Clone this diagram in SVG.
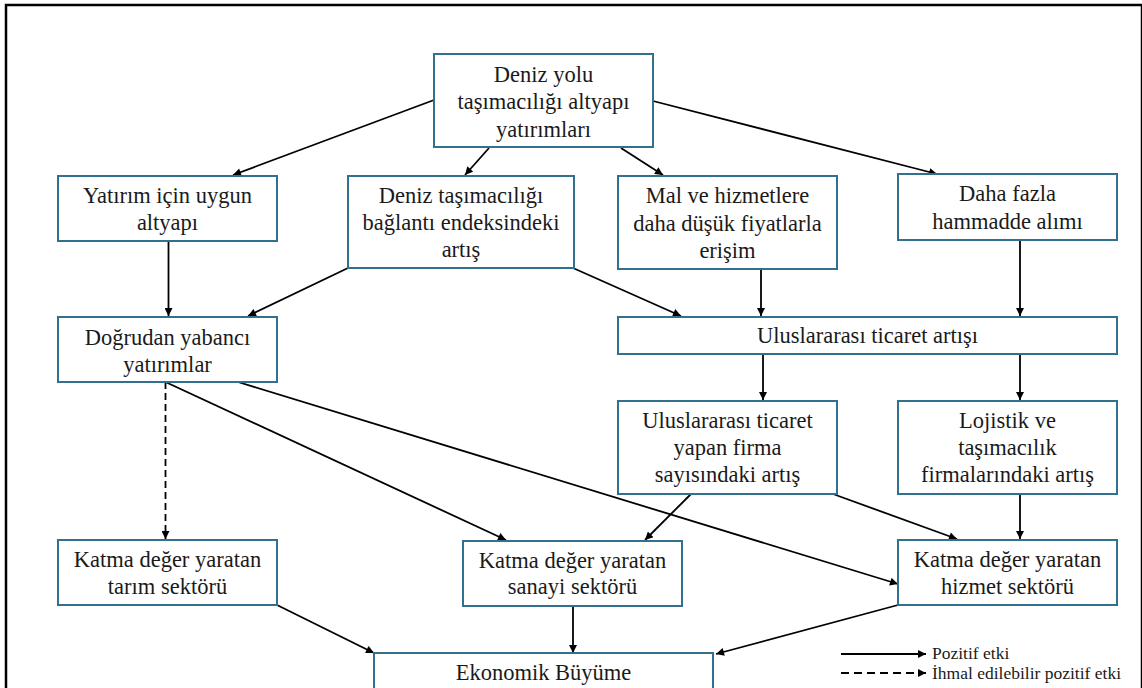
<svg xmlns="http://www.w3.org/2000/svg" width="1142" height="688" viewBox="0 0 1142 688">
  <style>
    .box { fill: #ffffff; stroke: #31708e; stroke-width: 2; }
    .lbl { font-family: "Liberation Serif", "Times New Roman", serif; font-size: 22.5px; fill: #1a1a1a; text-anchor: middle; }
    .leg { font-family: "Liberation Serif", "Times New Roman", serif; font-size: 17.5px; fill: #1a1a1a; }
    .link { fill: none; stroke: #000000; stroke-width: 1.8; marker-end: url(#arr); }
    .dash { stroke-dasharray: 7 4; }
  </style>
  <defs>
    <marker id="arr" viewBox="0 0 10 10" refX="10" refY="5" markerWidth="9" markerHeight="8" markerUnits="userSpaceOnUse" orient="auto">
      <path d="M0,0 L10,5 L0,10 z" fill="#000000"/>
    </marker>
  </defs>

  <rect width="1142" height="688" fill="#ffffff"/>
  <!-- frame -->
  <rect x="6" y="5" width="1136" height="700" fill="none" stroke="#000000" stroke-width="2.5"/>

  <!-- connectors -->
  <g id="connectors">
    <line class="link" x1="434" y1="100" x2="233" y2="175"/>
    <line class="link" x1="489" y1="148" x2="465" y2="175"/>
    <line class="link" x1="621" y1="148" x2="663" y2="175"/>
    <line class="link" x1="653" y1="101" x2="937" y2="174"/>
    <line class="link" x1="168.5" y1="241" x2="168.5" y2="316"/>
    <line class="link" x1="348" y1="268" x2="248" y2="316"/>
    <line class="link" x1="573" y1="268" x2="681" y2="316"/>
    <line class="link" x1="761" y1="269" x2="761" y2="316"/>
    <line class="link" x1="1020" y1="240" x2="1020" y2="316"/>
    <line class="link" x1="763" y1="354" x2="763" y2="400"/>
    <line class="link" x1="1020" y1="354" x2="1020" y2="400"/>
    <line class="link dash" x1="165.5" y1="382" x2="165.5" y2="539"/>
    <line class="link" x1="165.5" y1="382" x2="506" y2="540"/>
    <line class="link" x1="238" y1="382" x2="898" y2="584"/>
    <line class="link" x1="691" y1="494" x2="645" y2="540"/>
    <line class="link" x1="833" y1="494" x2="957" y2="539"/>
    <line class="link" x1="1020" y1="494" x2="1020" y2="539"/>
    <line class="link" x1="277" y1="605" x2="374" y2="653"/>
    <line class="link" x1="573" y1="606" x2="573" y2="653"/>
    <line class="link" x1="898" y1="605" x2="716" y2="654"/>
  </g>

  <g id="n-altyapi-yatirim">
    <rect class="box" x="434" y="54" width="219" height="93"/>
    <text class="lbl" x="543.5" y="81.5">Deniz yolu</text>
    <text class="lbl" x="543.5" y="109">taşımacılığı altyapı</text>
    <text class="lbl" x="543.5" y="136.5">yatırımları</text>
  </g>

  <g id="n-uygun-altyapi">
    <rect class="box" x="58" y="176" width="219" height="65"/>
    <text class="lbl" x="167.5" y="202.5">Yatırım için uygun</text>
    <text class="lbl" x="167.5" y="230">altyapı</text>
  </g>

  <g id="n-baglanti">
    <rect class="box" x="348" y="176" width="226" height="92"/>
    <text class="lbl" x="461" y="202.5">Deniz taşımacılığı</text>
    <text class="lbl" x="461" y="230">bağlantı endeksindeki</text>
    <text class="lbl" x="461" y="257">artış</text>
  </g>

  <g id="n-erisim">
    <rect class="box" x="618" y="176" width="219" height="93"/>
    <text class="lbl" x="727.5" y="203">Mal ve hizmetlere</text>
    <text class="lbl" x="727.5" y="230.5">daha düşük fiyatlarla</text>
    <text class="lbl" x="727.5" y="257.5">erişim</text>
  </g>

  <g id="n-hammadde">
    <rect class="box" x="898" y="174" width="219" height="66"/>
    <text class="lbl" x="1007.5" y="201">Daha fazla</text>
    <text class="lbl" x="1007.5" y="229">hammadde alımı</text>
  </g>

  <g id="n-dyy">
    <rect class="box" x="58" y="317" width="219" height="65"/>
    <text class="lbl" x="167.5" y="344.5">Doğrudan yabancı</text>
    <text class="lbl" x="167.5" y="372">yatırımlar</text>
  </g>

  <g id="n-ticaret">
    <rect class="box" x="618" y="317" width="499" height="37"/>
    <text class="lbl" x="867.5" y="343">Uluslararası ticaret artışı</text>
  </g>

  <g id="n-firma">
    <rect class="box" x="618" y="401" width="219" height="93"/>
    <text class="lbl" x="727.5" y="427.5">Uluslararası ticaret</text>
    <text class="lbl" x="727.5" y="455">yapan firma</text>
    <text class="lbl" x="727.5" y="482">sayısındaki artış</text>
  </g>

  <g id="n-lojistik">
    <rect class="box" x="898" y="401" width="219" height="93"/>
    <text class="lbl" x="1007.5" y="427.5">Lojistik ve</text>
    <text class="lbl" x="1007.5" y="455">taşımacılık</text>
    <text class="lbl" x="1007.5" y="482">firmalarındaki artış</text>
  </g>

  <g id="n-tarim">
    <rect class="box" x="58" y="540" width="219" height="65"/>
    <text class="lbl" x="167.5" y="567">Katma değer yaratan</text>
    <text class="lbl" x="167.5" y="593.5">tarım sektörü</text>
  </g>

  <g id="n-sanayi">
    <rect class="box" x="463" y="541" width="219" height="65"/>
    <text class="lbl" x="572.5" y="567.5">Katma değer yaratan</text>
    <text class="lbl" x="572.5" y="594">sanayi sektörü</text>
  </g>

  <g id="n-hizmet">
    <rect class="box" x="898" y="540" width="219" height="65"/>
    <text class="lbl" x="1007.5" y="567">Katma değer yaratan</text>
    <text class="lbl" x="1007.5" y="593.5">hizmet sektörü</text>
  </g>

  <g id="n-buyume">
    <rect class="box" x="374" y="653" width="339" height="60"/>
    <text class="lbl" x="543.5" y="680">Ekonomik Büyüme</text>
  </g>

  <g id="legend">
    <line class="link" x1="841" y1="654" x2="926" y2="654"/>
    <text class="leg" x="932" y="658.5">Pozitif etki</text>
    <line class="link" x1="841" y1="673" x2="926" y2="673" stroke-dasharray="8 5"/>
    <text class="leg" x="932" y="679">İhmal edilebilir pozitif etki</text>
  </g>
</svg>
